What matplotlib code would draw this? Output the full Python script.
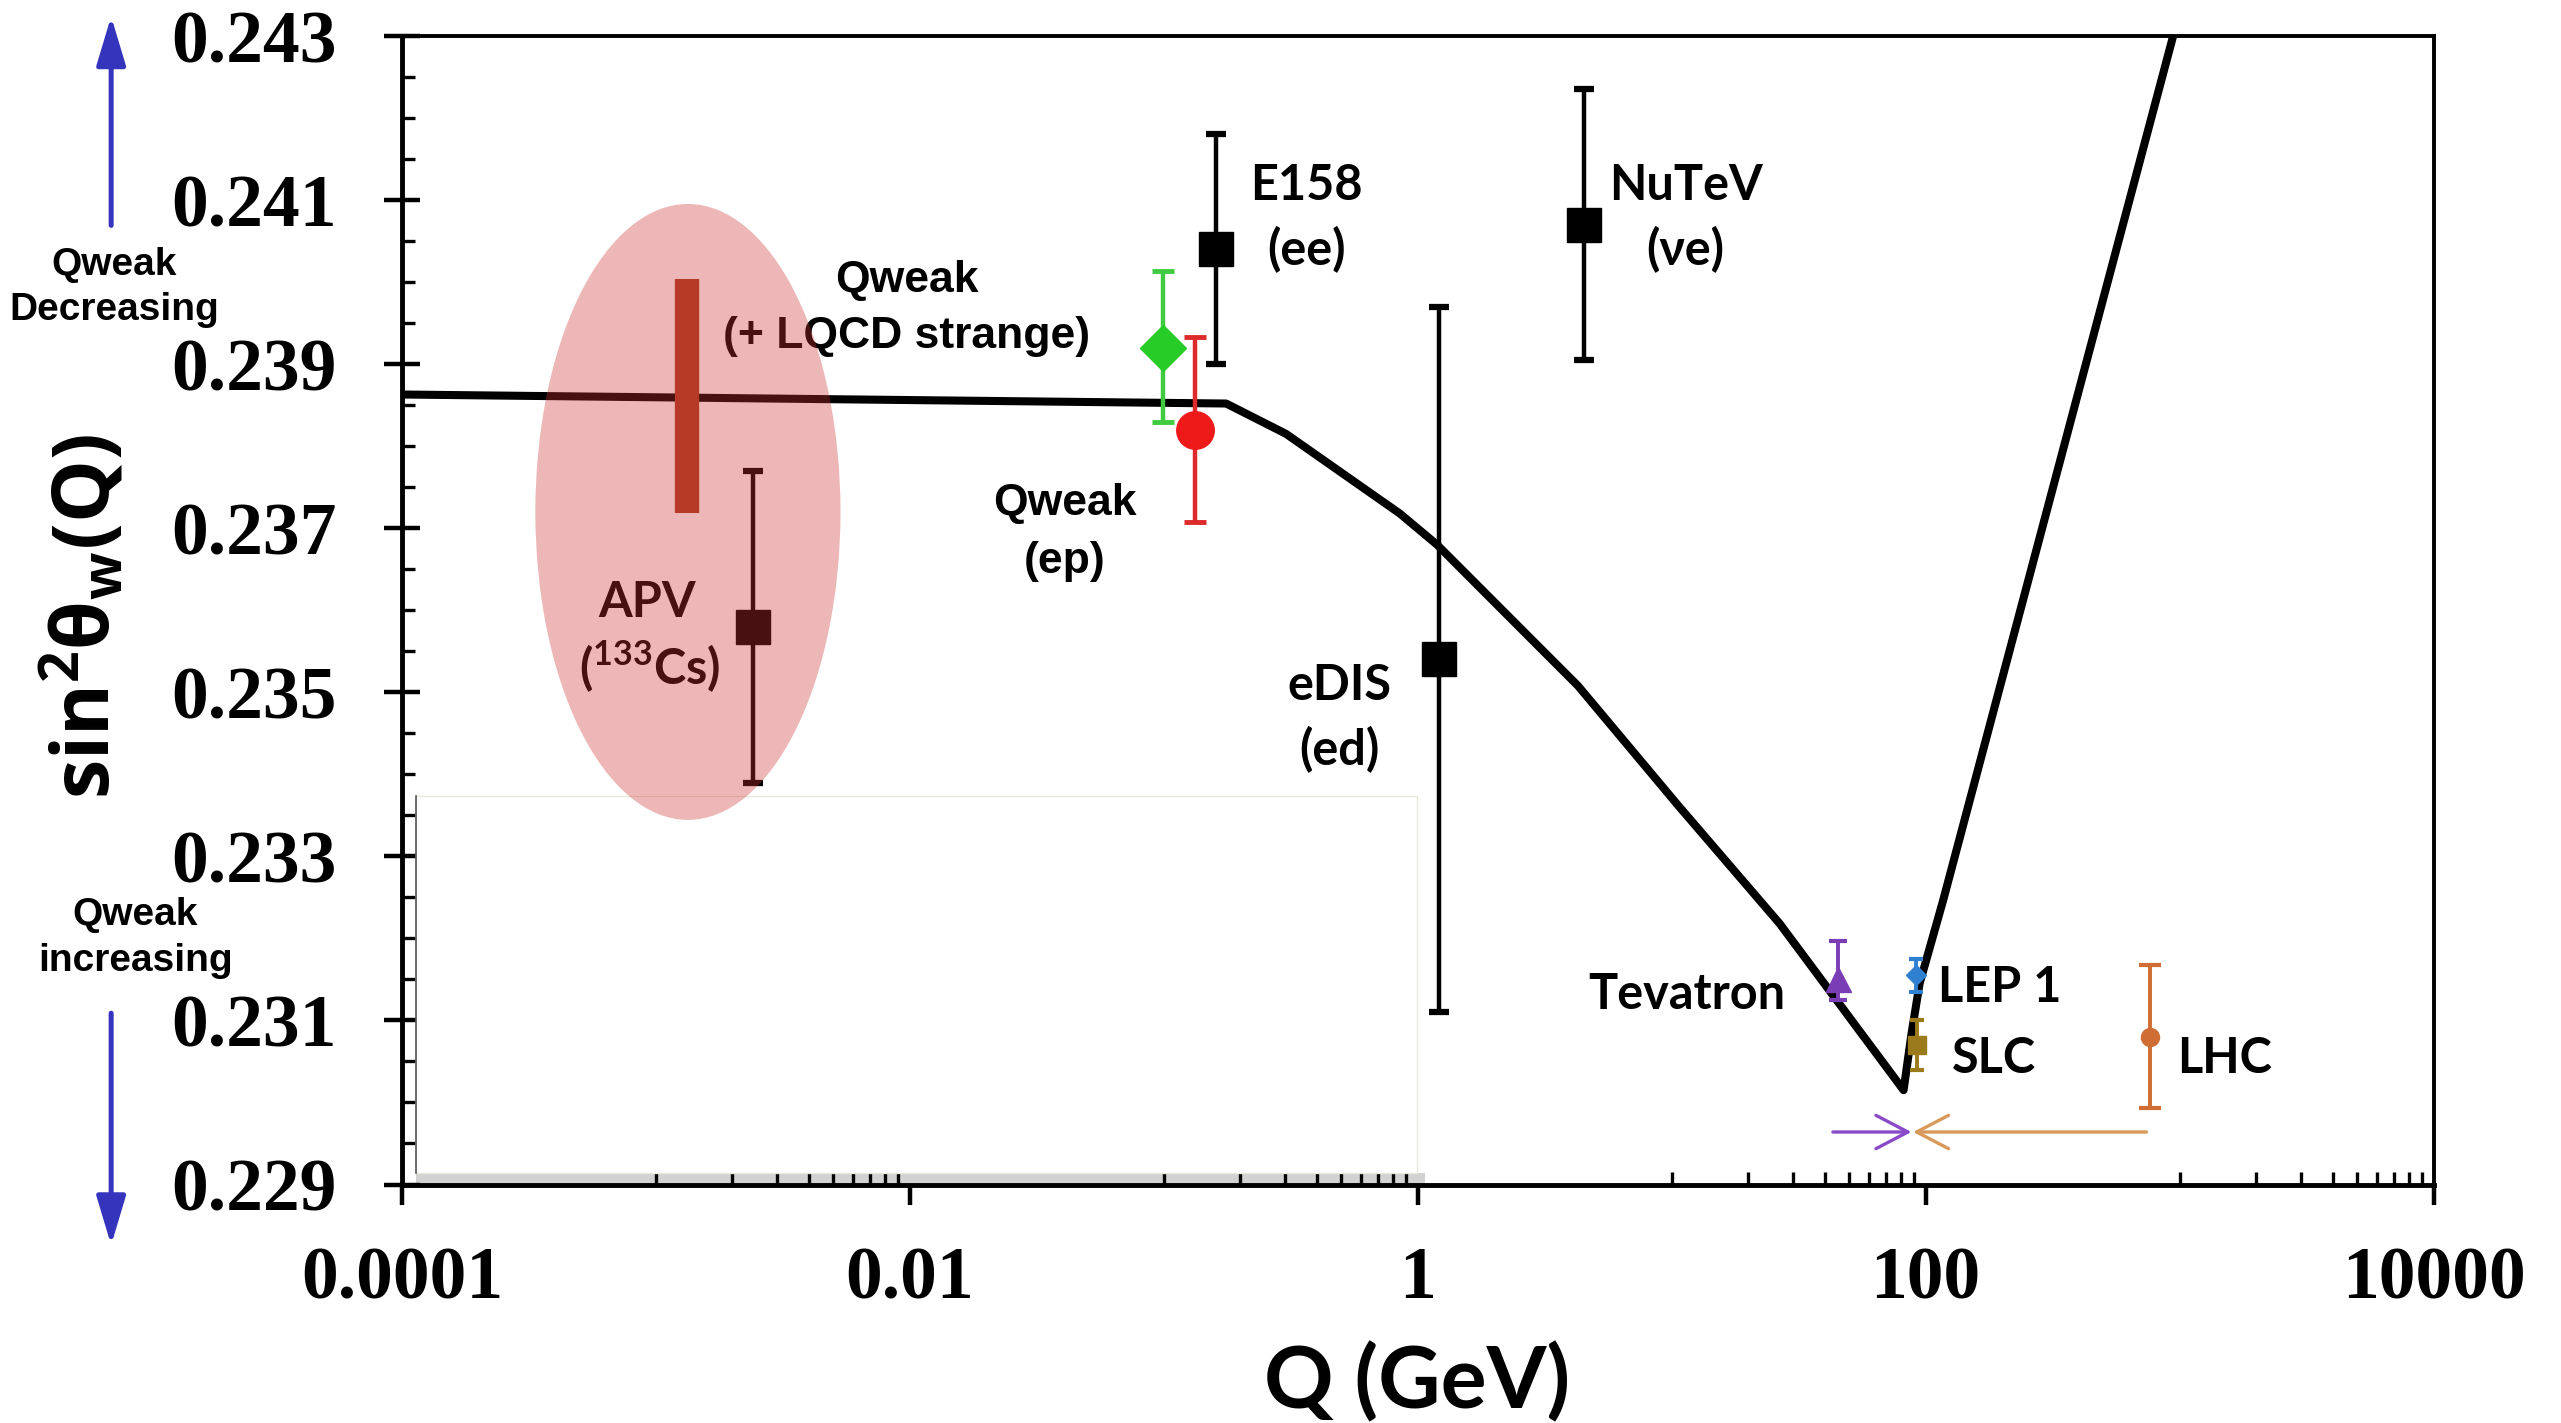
import matplotlib
matplotlib.use('Agg')
import matplotlib.pyplot as plt
from matplotlib.patches import Ellipse, Rectangle, FancyArrowPatch
from matplotlib.ticker import NullFormatter

# ---------------- data ----------------
# Standard-model running of sin^2(theta_W)
curve_q = [1e-4, 0.176, 0.303, 0.849, 1.19, 4.27, 10.6, 26.6, 81.8, 87.9, 94.6, 117, 942]
curve_s = [0.23863, 0.23852, 0.23815, 0.23718, 0.23680, 0.23508, 0.23362, 0.23218,
           0.23015, 0.23084, 0.23145, 0.23246, 0.2430]

# black measurements: APV(133Cs), E158, eDIS, NuTeV
blk_q = [0.00241, 0.161, 1.21, 4.52]
blk_s = [0.2358, 0.2404, 0.2354, 0.2407]
blk_err = [0.0019, 0.0014, 0.0043, 0.00165]

# Qweak (+ LQCD strange)
qwl_q = [0.0994]
qwl_s = [0.2392]
qwl_err_lo = [0.00091]
qwl_err_hi = [0.00094]

# Qweak (ep)
qwe_q = [0.1324]
qwe_s = [0.2382]
qwe_err = [0.00113]

# Qweak projected band near APV
band_q = [0.00133]
band_lo = [0.23718]
band_hi = [0.24004]

# collider points
tev_q, tev_s, tev_lo, tev_hi = [45.2], [0.2315], [0.00025], [0.00047]
lep_q, lep_s, lep_err = [91.6], [0.23155], [0.0002]
slc_q, slc_s, slc_err = [92.0], [0.2307], [0.0003]
lhc_q, lhc_s, lhc_err = [762.0], [0.2308], [0.00087]

# arrows pointing to the Z pole
arrow_s = 0.22964
tev_arrow_q = [43.1, 87.9]
lhc_arrow_q = [740.0, 89.1]

x_major = [1e-4, 1e-2, 1, 1e2, 1e4]
x_major_labels = ['0.0001', '0.01', '1', '100', '10000']
x_minor = [k * 10.0 ** e for e in (-3, -1, 1, 3) for k in range(1, 10)]
y_major = [0.229, 0.231, 0.233, 0.235, 0.237, 0.239, 0.241, 0.243]
y_major_labels = ['%.3f' % v for v in y_major]
y_minor = [0.229 + 0.0005 * i for i in range(29)]

# ---------------- figure ----------------
plt.rcParams['font.family'] = ['Lato', 'Open Sans', 'DejaVu Sans']

fig = plt.figure(figsize=(25.61, 14.23), dpi=100)
ax = fig.add_axes([0.1569, 0.1676, 0.7934, 0.8071])
ax.set_xscale('log')
ax.set_xlim(1e-4, 1e4)
ax.set_ylim(0.229, 0.243)

# white box (covering lower left) with a grey shadow
ax.add_patch(Rectangle((0.0068, 0.0), 0.497, 0.010, transform=ax.transAxes,
                       facecolor='#d2d2d2', edgecolor='none', zorder=1.4))
ax.add_patch(Rectangle((0.0068, 0.010), 0.4927, 0.3286, transform=ax.transAxes,
                       facecolor='white', edgecolor='#e8e8dc', lw=1.0, zorder=1.6))
ax.plot([0.0068, 0.0068], [0.010, 0.3386], transform=ax.transAxes,
        color='#555555', lw=1.2, zorder=1.7)

# curve
ax.plot(curve_q, curve_s, color='black', lw=5.8, zorder=2)

# band
ax.vlines(band_q, band_lo, band_hi, color='#ad3e22', lw=17.5, zorder=3)

# black points
ax.errorbar(blk_q, blk_s, yerr=blk_err, fmt='s', color='black', ms=25,
            lw=3.2, capsize=7, capthick=4.5, zorder=3)

# Qweak points
ax.errorbar(qwl_q, qwl_s, yerr=[qwl_err_lo, qwl_err_hi], fmt='D', color='#27cc27',
            ecolor='#3fca3f', ms=23, lw=3.2, capsize=8, capthick=3.5, zorder=3.2)
ax.errorbar(qwe_q, qwe_s, yerr=qwe_err, fmt='o', color='#ee1a1a',
            ecolor='#dd2a2a', ms=27, lw=3.2, capsize=8, capthick=3.5, zorder=3.1)

# collider points
ax.errorbar(tev_q, tev_s, yerr=[tev_lo, tev_hi], fmt='^', color='#7b3db5',
            ms=18, lw=2.8, capsize=6.5, capthick=3, zorder=3)
ax.errorbar(lep_q, lep_s, yerr=lep_err, fmt='D', color='#2f80d0',
            ms=10, lw=2.8, capsize=5, capthick=3, zorder=3)
ax.errorbar(slc_q, slc_s, yerr=slc_err, fmt='s', color='#9a7a1a',
            ms=13, lw=2.8, capsize=5, capthick=3, zorder=3)
ax.errorbar(lhc_q, lhc_s, yerr=lhc_err, fmt='o', color='#cf6d34',
            ms=13, lw=2.8, capsize=8, capthick=3, zorder=3)

# arrows to Z pole
ax.annotate('', xy=(tev_arrow_q[1], arrow_s), xytext=(tev_arrow_q[0], arrow_s),
            arrowprops=dict(arrowstyle='->,head_length=1.15,head_width=0.6',
                            color='#8a4bc8', lw=2.4, shrinkA=0, shrinkB=0,
                            mutation_scale=20), zorder=3)
ax.annotate('', xy=(lhc_arrow_q[1], arrow_s), xytext=(lhc_arrow_q[0], arrow_s),
            arrowprops=dict(arrowstyle='->,head_length=1.15,head_width=0.6',
                            color='#d89a5a', lw=2.4, shrinkA=0, shrinkB=0,
                            mutation_scale=20), zorder=3)

# labels inside the plot
lab = dict(fontsize=35, fontweight='bold', ha='center', va='center', zorder=4)
ax.text(0.000922, 0.2361, 'APV', **lab)
ax.text(0.000951, 0.23532, '($^{\\mathregular{133}}$Cs)', **lab)
ax.text(0.366, 0.24118, 'E158', **lab)
ax.text(0.366, 0.2404, '(ee)', **lab)
ax.text(11.35, 0.24118, 'NuTeV', **lab)
ax.text(11.35, 0.2404, '(\u03bde)', **lab)
ax.text(0.491, 0.23508, 'eDIS', **lab)
ax.text(0.491, 0.2343, '(ed)', **lab)
ax.text(11.5, 0.23132, 'Tevatron', **lab)
labl = dict(lab, ha='left')
ax.text(112, 0.2314, 'LEP 1', **labl)
ax.text(127, 0.23054, 'SLC', **labl)
ax.text(977, 0.23054, 'LHC', **labl)

arial = dict(fontsize=32, fontweight='bold', ha='center', va='center', zorder=4,
             family=['Liberation Sans', 'DejaVu Sans'])
ax.text(0.0097, 0.24002, 'Qweak', **arial)
ax.text(0.0097, 0.23934, '(+ LQCD strange)', **arial)
ax.text(0.0408, 0.2373, 'Qweak', **arial)
ax.text(0.0408, 0.2366, '(ep)', **arial)

# pink ellipse on top (semi-transparent)
ax.add_patch(Ellipse((0.1408, 0.5856), 0.1502, 0.5363, transform=ax.transAxes,
                     facecolor=(0.80, 0.20, 0.20), alpha=0.35, edgecolor='none',
                     zorder=6))

# ---------------- ticks ----------------
ax.set_xticks(x_major)
ax.set_xticklabels(x_major_labels)
ax.set_xticks(x_minor, minor=True)
ax.xaxis.set_minor_formatter(NullFormatter())
ax.set_yticks(y_major)
ax.set_yticklabels(y_major_labels)
ax.set_yticks(y_minor, minor=True)

ax.tick_params(axis='x', which='major', direction='out', length=14.5, width=3.2,
               pad=30, labelsize=53)
ax.tick_params(axis='x', which='minor', direction='in', length=9.5, width=2.4)
ax.tick_params(axis='y', which='major', direction='inout', length=26, width=3.2,
               pad=34, labelsize=53)
ax.tick_params(axis='y', which='minor', direction='in', length=9.5, width=2.4)
ax.tick_params(top=False, right=False, which='both')
for lbl in ax.get_xticklabels() + ax.get_yticklabels():
    lbl.set_fontfamily(['Liberation Serif', 'DejaVu Serif'])
    lbl.set_fontweight('bold')

for side in ['left', 'bottom']:
    ax.spines[side].set_linewidth(3.5)
for side in ['top', 'right']:
    ax.spines[side].set_linewidth(2.8)

# ---------------- axis titles & side annotations ----------------
fig.text(0.5533, 0.0287, 'Q (GeV)', fontsize=62, fontweight='bold',
         ha='center', va='center')
fig.text(0.0332, 0.5666, 'sin$^\\mathregular{2}$\u03b8$_\\mathregular{w}$(Q)',
         fontsize=57, fontweight='bold', rotation=90, ha='center', va='center',
         family=['Open Sans'])

side = dict(fontsize=28, fontweight='bold', ha='center', va='center',
            family=['Liberation Sans Narrow', 'Liberation Sans', 'DejaVu Sans'])
fig.text(0.0446, 0.814, 'Qweak', **side)
fig.text(0.0446, 0.7818, 'Decreasing', **side)
fig.text(0.0529, 0.357, 'Qweak', **side)
fig.text(0.0529, 0.325, 'increasing', **side)

blue = '#3434bd'
fig.patches.append(FancyArrowPatch((0.0434, 0.8416), (0.0434, 0.9885),
                                   transform=fig.transFigure,
                                   arrowstyle='-|>,head_length=1.5,head_width=0.45',
                                   mutation_scale=20, color=blue, lw=3.6,
                                   shrinkA=0, shrinkB=0))
fig.patches.append(FancyArrowPatch((0.0434, 0.288), (0.0434, 0.125),
                                   transform=fig.transFigure,
                                   arrowstyle='-|>,head_length=1.5,head_width=0.45',
                                   mutation_scale=20, color=blue, lw=3.6,
                                   shrinkA=0, shrinkB=0))

fig.savefig('out.png', dpi=100)
